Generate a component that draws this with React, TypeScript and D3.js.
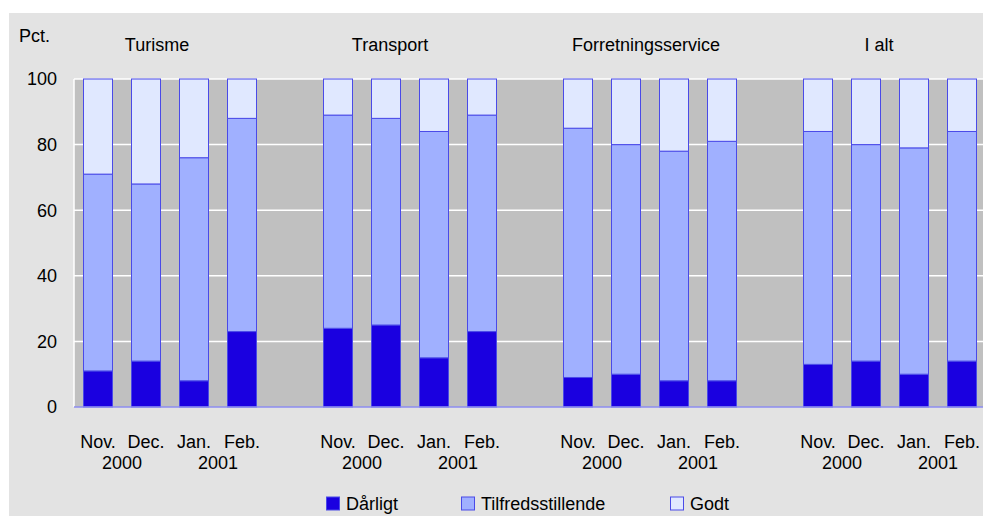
import React from "react";
import * as d3 from "d3";

const groups = ["Turisme", "Transport", "Forretningsservice", "I alt"];
const months = ["Nov.", "Dec.", "Jan.", "Feb."];
const years = ["2000", "2001"];
const seriesNames = ["Dårligt", "Tilfredsstillende", "Godt"];

// values per group, per month
const darligt = [
  [11, 14, 8, 23],
  [24, 25, 15, 23],
  [9, 10, 8, 8],
  [13, 14, 10, 14],
];
const tilfreds = [
  [60, 54, 68, 65],
  [65, 63, 69, 66],
  [76, 70, 70, 73],
  [71, 66, 69, 70],
];
const godt = [
  [29, 32, 24, 12],
  [11, 12, 16, 11],
  [15, 20, 22, 19],
  [16, 20, 21, 16],
];
const yTicks = [0, 20, 40, 60, 80, 100];

const colors = ["#1a00e0", "#a0b0ff", "#e0e8ff"];
const strokeCol = "#4a4ae8";
const titleShift = [-13, -20, -4, -11];

const W = 983;
const H = 516;
const font = "'Liberation Sans', Arial, sans-serif";

export default function App() {
  const left = 74;
  const right = 986;
  const top = 79;
  const bottom = 407;
  const slots = d3.range(19).map(String);
  const x = d3.scaleBand<string>().domain(slots).range([left, right]).paddingInner(0.375).paddingOuter(0.1875);
  const y = d3.scaleLinear().domain([0, 100]).range([bottom, top]);
  const slotOf = (g: number, m: number) => String(g * 5 + m);
  const bw = x.bandwidth();
  const data = [darligt, tilfreds, godt];

  return (
    <svg width={W} height={H} style={{ position: "absolute", left: 0, top: 0 }} fontFamily={font}>
      <rect x={0} y={0} width={W} height={H} fill="#ffffff" />
      <rect x={9} y={13} width={W - 9} height={H - 13} fill="#e3e3e3" />
      <rect x={left} y={top} width={right - left} height={bottom - top} fill="#c0c0c0" />
      {yTicks.map((t) => (
        <g key={t}>
          {t > 0 && <line x1={left} x2={right} y1={y(t)} y2={y(t)} stroke="#ffffff" strokeWidth={1.5} />}
          <text x={57} y={y(t)} dy="0.36em" textAnchor="end" fontSize={18} fill="#000">
            {t}
          </text>
        </g>
      ))}
      <line x1={left} x2={left} y1={top} y2={bottom} stroke="#ffffff" strokeWidth={1.5} />
      <text x={19} y={42} fontSize={18} fill="#000">Pct.</text>
      {groups.map((gName, g) => {
        const x0 = x(slotOf(g, 0))!;
        const x3 = x(slotOf(g, 3))! + bw;
        const cx = (x0 + x3) / 2 + titleShift[g];
        return (
          <text key={gName} x={cx} y={51} textAnchor="middle" fontSize={18} fill="#000">
            {gName}
          </text>
        );
      })}
      {groups.map((gName, g) =>
        months.map((mName, m) => {
          let acc = 0;
          const bx = x(slotOf(g, m))!;
          return (
            <g key={gName + mName}>
              {data.map((s, si) => {
                const v = s[g][m];
                const y0 = y(acc);
                acc += v;
                const y1 = y(acc);
                return (
                  <rect
                    key={si}
                    x={bx + 0.5}
                    y={y1}
                    width={bw - 1}
                    height={y0 - y1}
                    fill={colors[si]}
                    stroke={strokeCol}
                    strokeWidth={1}
                  />
                );
              })}
              <text x={bx + bw / 2} y={448} textAnchor="middle" fontSize={18} fill="#000">
                {mName}
              </text>
            </g>
          );
        })
      )}
      {groups.map((gName, g) =>
        years.map((yr, yi) => {
          const a = x(slotOf(g, yi * 2))! + bw / 2;
          const b = x(slotOf(g, yi * 2 + 1))! + bw / 2;
          return (
            <text key={gName + yr} x={(a + b) / 2} y={469} textAnchor="middle" fontSize={18} fill="#000">
              {yr}
            </text>
          );
        })
      )}
      <line x1={left} x2={right} y1={bottom} y2={bottom} stroke="#8c8cf0" strokeWidth={1.5} />
      {seriesNames.map((s, i) => {
        const lx = [326, 461, 670][i];
        return (
          <g key={s}>
            <rect x={lx + 0.5} y={497} width={13} height={13} fill={colors[i]} stroke={strokeCol} strokeWidth={1} />
            <text x={lx + 20} y={510} fontSize={18} fill="#000">
              {s}
            </text>
          </g>
        );
      })}
    </svg>
  );
}
